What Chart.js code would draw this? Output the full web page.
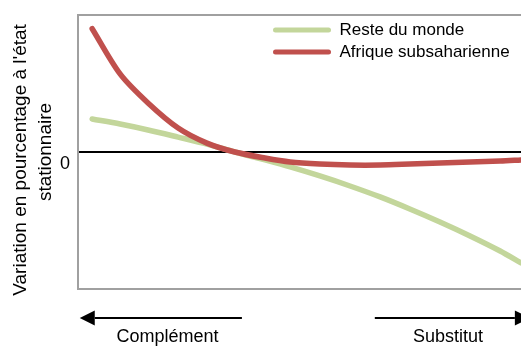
<!DOCTYPE html>
<html><head><meta charset="utf-8">
<script src="https://cdn.jsdelivr.net/npm/chart.js@4"></script>
<style>html,body{margin:0;padding:0;background:#fff;overflow:hidden}#wrap{width:521px;height:348px;position:relative}</style>
</head><body><div id="wrap"><canvas id="c" width="521" height="348"></canvas></div>
<script>
// ---- data ----
const seriesNames = ["Reste du monde", "Afrique subsaharienne"];
const xPositions = [3.2, 9.5, 15.8, 22.6, 29.1, 35.4, 42.2, 47.9, 54.6, 61.4, 68.2, 74.9, 81.7, 88.5, 95.3, 100];
const resteDuMonde = [2.41, 2.04, 1.61, 1.09, 0.58, 0, -0.58, -1.09, -1.75, -2.48, -3.28, -4.16, -5.11, -6.13, -7.23, -8.1];
const afriqueSubsaharienne = [9.0, 5.7, 3.58, 1.75, 0.65, 0, -0.44, -0.73, -0.88, -0.95, -0.95, -0.88, -0.80, -0.73, -0.66, -0.58];
const xTickValues = [20.2, 83.5];
const xTickLabels = ["Complément", "Substitut"];
const yTickValues = [0];
const yTitle = ["Variation en pourcentage à l'état\u00a0\u00a0\u00a0", "stationnaire"];

const FONT = "'Liberation Sans', Arial, sans-serif";
const GRAY = '#a0a0a0';

const toPoints = ys => ys.map((y, i) => ({x: xPositions[i], y}));

const arrowPlugin = {
  id: 'arrows',
  afterDraw(chart, args, opts) {
    const ctx = chart.ctx, xs = chart.scales.x;
    const y = chart.chartArea.bottom + opts.offset;
    opts.arrows.forEach(a => {
      const x0 = xs.getPixelForValue(a.from), x1 = xs.getPixelForValue(a.to);
      const dir = Math.sign(x1 - x0);
      ctx.save();
      ctx.strokeStyle = '#000'; ctx.fillStyle = '#000'; ctx.lineWidth = 2;
      ctx.beginPath(); ctx.moveTo(x0, y); ctx.lineTo(x1 - dir * opts.head, y); ctx.stroke();
      ctx.beginPath(); ctx.moveTo(x1, y);
      ctx.lineTo(x1 - dir * opts.head, y - opts.half);
      ctx.lineTo(x1 - dir * opts.head, y + opts.half);
      ctx.closePath(); ctx.fill();
      ctx.restore();
    });
  }
};

const legendPlace = {
  id: 'legendPlace',
  afterLayout(chart, args, opts) {
    const lg = chart.legend;
    const w = lg.width;
    lg.left = opts.left; lg.top = opts.top;
    lg.right = opts.left + w; lg.bottom = opts.top + 200;
  }
};

const noPad = ax => { ax.paddingTop = 0; ax.paddingBottom = 0; ax.paddingLeft = 0; ax.paddingRight = 0; };

new Chart(document.getElementById('c'), {
  type: 'line',
  data: {
    datasets: [
      {label: seriesNames[0], data: toPoints(resteDuMonde), borderColor: '#c3d69b', backgroundColor: '#c3d69b',
       borderWidth: 5.5, pointRadius: 0, tension: 0.3, borderCapStyle: 'round', borderJoinStyle: 'round', order: 1},
      {label: seriesNames[1], data: toPoints(afriqueSubsaharienne), borderColor: '#c0504d', backgroundColor: '#c0504d',
       borderWidth: 5.5, pointRadius: 0, tension: 0.3, borderCapStyle: 'round', borderJoinStyle: 'round', order: 0}
    ]
  },
  options: {
    responsive: false,
    animation: false,
    events: [],
    layout: {padding: {top: 15, right: 0, bottom: 0, left: 0}},
    scales: {
      x: {
        type: 'linear', min: 0, max: 100,
        afterBuildTicks: ax => { ax.ticks = xTickValues.map(v => ({value: v})); },
        afterFit: ax => { ax.height = 59; noPad(ax); },
        grid: {display: false, drawTicks: false},
        border: {color: GRAY, width: 2},
        ticks: {padding: 37, color: '#000', autoSkip: false, maxRotation: 0,
                font: {family: FONT, size: 18},
                callback: (v, i) => xTickLabels[i]}
      },
      x2: {
        type: 'linear', position: 'top', display: true, min: 0, max: 100,
        grid: {display: false, drawTicks: false},
        ticks: {display: false},
        border: {color: GRAY, width: 2},
        afterFit: ax => { ax.height = 0; noPad(ax); }
      },
      y: {
        min: -10, max: 10,
        afterBuildTicks: ax => { ax.ticks = yTickValues.map(v => ({value: v})); },
        afterFit: ax => { ax.width = 78; noPad(ax); },
        grid: {color: '#000', lineWidth: 2, drawTicks: false},
        border: {color: GRAY, width: 2},
        ticks: {padding: 8, labelOffset: 12, color: '#000', font: {family: FONT, size: 18},
                callback: v => String(v)},
        title: {display: true, text: yTitle, color: '#000',
                font: {family: FONT, size: 19, lineHeight: '25px'}, padding: {top: 8.5, bottom: 0}}
      }
    },
    plugins: {
      title: {display: false},
      tooltip: {enabled: false},
      legend: {
        display: true, position: 'chartArea', align: 'start',
        labels: {
          boxWidth: 58, boxHeight: 5, padding: 5, color: '#000',
          font: {family: FONT, size: 17},
          generateLabels: chart => chart.data.datasets.map((ds, i) => ({
            text: ds.label, fillStyle: ds.borderColor, strokeStyle: ds.borderColor,
            lineWidth: 0, borderRadius: 2.5, hidden: false, datasetIndex: i, fontColor: '#000'
          }))
        }
      },
      legendPlace: {left: 268, top: 16.5},
      arrows: {offset: 29, head: 15, half: 7.5,
               arrows: [{from: 37.0, to: 0.4}, {from: 67.0, to: 102}]}
    }
  },
  plugins: [legendPlace, arrowPlugin]
});
</script>
</body></html>
